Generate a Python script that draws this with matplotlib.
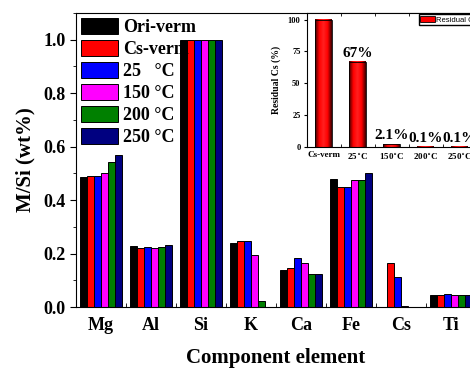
import numpy as np
import matplotlib
matplotlib.use("Agg")
import matplotlib.pyplot as plt
from matplotlib.colors import LinearSegmentedColormap
from matplotlib.ticker import MultipleLocator, FixedLocator

plt.rcParams["font.family"] = ["Liberation Serif", "DejaVu Serif"]
plt.rcParams["font.weight"] = "bold"
plt.rcParams["axes.labelweight"] = "bold"

# --- data ---
elements = ["Mg", "Al", "Si", "K", "Ca", "Fe", "Cs", "Ti"]
series_names = ["Ori-verm", "Cs-verm", "25   \u00b0C", "150 \u00b0C", "200 \u00b0C", "250 \u00b0C"]
series_colors = ["#000000", "#ff0000", "#0000ff", "#ff00ff", "#008000", "#000080"]

ori_verm = [0.486, 0.230, 1.0, 0.238, 0.137, 0.479, 0.0, 0.045]
cs_verm = [0.489, 0.222, 1.0, 0.247, 0.145, 0.448, 0.165, 0.045]
t25 = [0.489, 0.226, 1.0, 0.247, 0.182, 0.448, 0.111, 0.049]
t150 = [0.500, 0.220, 1.0, 0.194, 0.165, 0.476, 0.002, 0.046]
t200 = [0.542, 0.226, 1.0, 0.021, 0.124, 0.476, 0.001, 0.044]
t250 = [0.569, 0.231, 1.0, 0.0, 0.124, 0.500, 0.001, 0.044]
series = [ori_verm, cs_verm, t25, t150, t200, t250]

inset_labels = ["Cs-verm", "25$^{\\circ}$C", "150$^{\\circ}$C", "200$^{\\circ}$C", "250$^{\\circ}$C"]
residual_cs = [100, 67, 2.1, 0.1, 0.1]
residual_text = ["", "67%", "2.1%", "0.1%", "0.1%"]

fig = plt.figure(figsize=(4.70, 3.69), dpi=100)

# --- main chart ---
ax = fig.add_axes([0.1617, 0.168, 0.851, 0.797])
x = np.arange(len(elements))
bw = 0.137
for i, (vals, name, col) in enumerate(zip(series, series_names, series_colors)):
    ax.bar(x + (i - 2.5) * bw, vals, bw, color=col, edgecolor="black",
           linewidth=0.7, label=name)

ax.set_xlim(-0.5, len(elements) - 0.5)
ax.set_ylim(0, 1.1)
ax.set_xticks(x)
ax.set_xticklabels(elements, fontsize=13, fontweight="bold")
ax.xaxis.set_minor_locator(FixedLocator(x[:-1] + 0.5))
ax.tick_params(axis="x", which="major", length=0, pad=7)
ax.tick_params(axis="x", which="minor", direction="in", length=3)
ax.yaxis.set_major_locator(MultipleLocator(0.2))
ax.yaxis.set_minor_locator(MultipleLocator(0.1))
ax.tick_params(axis="y", which="major", direction="out", length=4, labelsize=13)
ax.tick_params(axis="y", which="minor", direction="out", length=2)
for lab in ax.get_yticklabels():
    lab.set_fontweight("bold")
ax.set_xlabel("Component element", fontsize=15, fontweight="bold", labelpad=10)
ax.set_ylabel("M/Si (wt%)", fontsize=15, fontweight="bold", labelpad=6)

ax.legend(loc="upper left", bbox_to_anchor=(0, 1), frameon=False,
          prop={"size": 13, "weight": "bold"}, handlelength=2.0,
          handleheight=0.95, labelspacing=0.22, handletextpad=0.3,
          borderpad=0.1, borderaxespad=0.2)

# --- inset: residual Cs ---
ins = fig.add_axes([0.6526, 0.6024, 0.3617, 0.3616])
xi = np.arange(len(residual_cs))
bars = ins.bar(xi, residual_cs, 0.5, facecolor="none", edgecolor="black",
               linewidth=0.6, zorder=3, label="Residual Cs")
shade = LinearSegmentedColormap.from_list(
    "cyl", ["#3a0000", "#ff0000", "#ff2020", "#ff0000", "#3a0000"])
grad = np.linspace(0, 1, 64).reshape(1, -1)
for b in bars:
    ins.imshow(grad, cmap=shade, aspect="auto", zorder=2,
               extent=[b.get_x(), b.get_x() + b.get_width(), 0, b.get_height()])
for b, txt in zip(bars, residual_text):
    if txt:
        ins.text(b.get_x() + b.get_width() / 2, b.get_height() + 1.5, txt,
                 ha="center", va="bottom", fontsize=11, fontweight="bold")

ins.set_xlim(-0.5, len(residual_cs) - 0.5)
ins.set_ylim(0, 105)
ins.set_xticks(xi)
ins.set_xticklabels(inset_labels, fontsize=6.5, fontweight="bold")
ins.tick_params(axis="x", which="major", length=0, pad=3)
ins.xaxis.set_minor_locator(FixedLocator(xi[:-1] + 0.5))
ins.tick_params(axis="x", which="minor", direction="in", length=2, top=True)
ins.yaxis.set_major_locator(MultipleLocator(25))
ins.tick_params(axis="y", which="major", direction="out", length=2.5, labelsize=6, pad=2)
for lab in ins.get_yticklabels():
    lab.set_fontweight("bold")
ins.set_ylabel("Residual Cs (%)", fontsize=7, fontweight="bold", labelpad=5)

h = plt.Rectangle((0, 0), 1, 1, facecolor="#ff0000", edgecolor="black", linewidth=0.6)
ins.legend([h], ["Residual Cs"], loc="upper left",
           bbox_to_anchor=((418 - 306.7) / 170.0, 1.0),
           prop={"family": "Liberation Sans", "size": 5.5, "weight": "normal"},
           fancybox=False, edgecolor="black", framealpha=1,
           handlelength=1.9, handleheight=1.0, handletextpad=0.2,
           borderpad=0.15, borderaxespad=0.15)

fig.savefig("out.png", dpi=100)
